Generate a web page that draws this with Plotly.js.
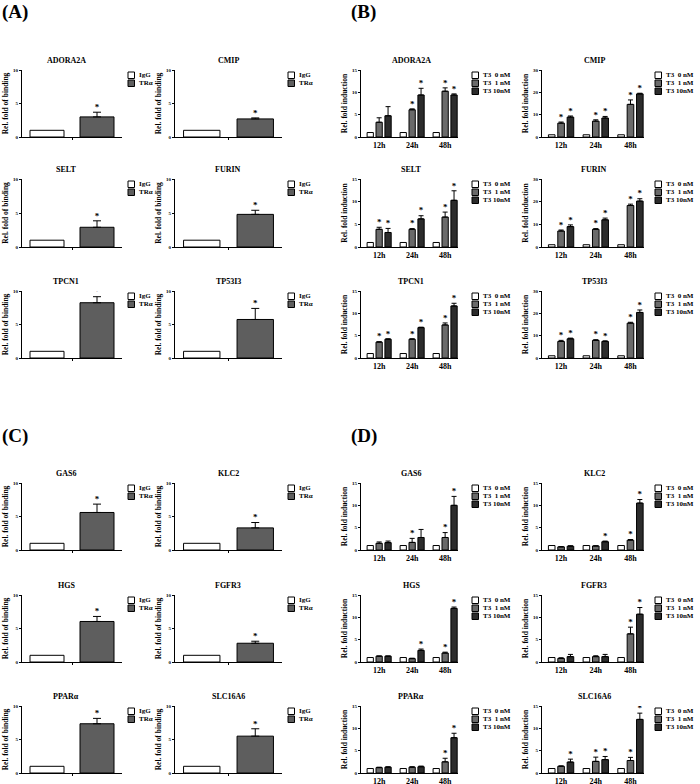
<!DOCTYPE html>
<html>
<head>
<meta charset="utf-8">
<script src="https://cdn.plot.ly/plotly-3.0.1.min.js"></script>
<style>
  body { margin: 0; background: #fff; }
  #chart { width: 700px; height: 784px; }
</style>
</head>
<body>
<div id="chart"></div>
<script>
// ---- data: ChIP panels (A, C), IgG = 1, TRα value + upper SEM ----
const chipGenesA = ['ADORA2A', 'CMIP', 'SELT', 'FURIN', 'TPCN1', 'TP53I3'];
const chipTRaA   = [3.0, 2.7, 2.9, 4.8, 8.25, 5.75];
const chipErrA   = [0.7, 0.15, 0.95, 0.6, 0.9, 1.65];
const chipGenesC = ['GAS6', 'KLC2', 'HGS', 'FGFR3', 'PPARα', 'SLC16A6'];
const chipTRaC   = [5.6, 3.3, 6.05, 2.8, 7.35, 5.5];
const chipErrC   = [1.25, 0.8, 0.75, 0.3, 0.8, 1.1];
const chipIgG    = 1;
const chipNames  = ['IgG', 'TRα'];

// ---- data: T3 time course panels (B, D) ----
const times = ['12h', '24h', '48h'];
const doses = ['T3\u00a0\u00a00\u00a0nM', 'T3\u00a0\u00a01\u00a0nM', 'T3\u00a010nM'];
const dose0 = [1, 1, 1];

const bGenes   = ['ADORA2A', 'CMIP', 'SELT', 'FURIN', 'TPCN1', 'TP53I3'];
const bYmax    = [15, 30, 15, 30, 15, 30];
const bNM1     = [[3.3, 6.1, 10.25], [6.2, 7.1, 14.6], [3.9, 3.9, 6.6], [7.05, 7.8, 18.3], [3.55, 4.2, 7.4], [7.4, 7.9, 15.6]];
const bNM1err  = [[1.0, 0.2, 0.75], [0.5, 0.6, 2.0], [0.45, 0.15, 1.1], [0.45, 0.3, 0.6], [0.1, 0.1, 0.45], [0.5, 0.3, 0.4]];
const bNM10    = [[4.75, 9.4, 9.4], [8.9, 8.5, 19.3], [3.2, 6.2, 10.3], [9.0, 12.0, 20.25], [4.2, 6.8, 11.65], [8.6, 7.4, 20.4]];
const bNM10err = [[2.05, 1.5, 0.25], [0.5, 0.7, 0.3], [0.9, 0.7, 2.1], [0.75, 0.75, 1.05], [0.1, 0.1, 0.6], [0.3, 0.3, 1.1]];
const bSig1    = [[0, 1, 1], [1, 1, 1], [1, 1, 1], [1, 1, 1], [1, 1, 1], [1, 1, 1]];
const bSig10   = [[0, 1, 1], [1, 1, 1], [1, 1, 1], [1, 1, 1], [1, 1, 1], [1, 1, 1]];

const dGenes   = ['GAS6', 'KLC2', 'HGS', 'FGFR3', 'PPARα', 'SLC16A6'];
const dYmax    = [15, 15, 15, 15, 15, 15];
const dNM1     = [[1.5, 1.7, 2.8], [0.7, 0.9, 2.2], [1.3, 0.75, 2.0], [0.8, 1.2, 6.3], [1.2, 1.3, 2.5], [1.5, 2.6, 2.8]];
const dNM1err  = [[0.3, 0.9, 1.1], [0.05, 0.05, 0.15], [0.05, 0.1, 0.2], [0.15, 0.2, 1.5], [0.1, 0.1, 0.8], [0.1, 0.95, 0.7]];
const dNM10    = [[1.65, 2.8, 10.0], [0.85, 1.85, 10.5], [1.3, 2.6, 12.0], [1.2, 1.2, 10.7], [1.3, 1.4, 7.9], [2.45, 3.0, 12.0]];
const dNM10err = [[0.35, 1.8, 2.0], [0.1, 0.15, 0.8], [0.05, 0.3, 0.3], [0.5, 0.5, 1.5], [0.1, 0.15, 1.0], [0.65, 0.7, 1.4]];
const dSig1    = [[0, 1, 1], [0, 0, 1], [0, 0, 1], [0, 0, 1], [0, 0, 1], [0, 1, 1]];
const dSig10   = [[0, 0, 1], [0, 1, 1], [0, 1, 1], [0, 0, 1], [0, 0, 1], [1, 1, 1]];

// ---- layout geometry (px) ----
const W = 700, H = 784;
const FONT = 'Liberation Serif, Times New Roman, serif';
const colPx = [[22, 122], [175, 282], [361, 458], [542, 644]];
const rowPx = [[70, 137], [179, 247], [291, 358], [483, 550], [595, 662], [706, 773]];
const titleX = [66, 228, 411, 594];
const legendX = [128, 288, 472, 655];
const chipColors = ['#ffffff', '#5e5e5e'];
const doseColors = ['#ffffff', '#6a6a6a', '#2c2c2c'];
const chipOff = [-0.25, 0.25], chipW = 0.34;
const doseOff = [-0.27, 0, 0.27], doseW = 0.19;

const px = p => p / W;
const py = p => 1 - p / H;

let traces = [], annotations = [], shapes = [];
let layout = {
  width: W, height: H,
  margin: { l: 0, r: 0, t: 0, b: 0 },
  paper_bgcolor: '#fff', plot_bgcolor: '#fff',
  showlegend: false, barmode: 'overlay',
  font: { family: FONT, color: '#000' }
};
let k = 0;

function errBar(arr, w) {
  return { type: 'data', symmetric: false, array: arr, arrayminus: arr.map(() => 0),
           color: '#000', thickness: 1, width: w };
}

function addLegend(col, row, names, colors) {
  let top = rowPx[row][0] + 2;
  names.forEach((n, i) => {
    let by = top + i * 8, bx = legendX[col];
    shapes.push({ type: 'rect', xref: 'paper', yref: 'paper',
      x0: px(bx), x1: px(bx + 6.5), y0: py(by + 6.5), y1: py(by),
      fillcolor: colors[i], line: { color: '#000', width: 1 } });
    annotations.push({ xref: 'paper', yref: 'paper', x: px(bx + 9), y: py(by + 3.4),
      xanchor: 'left', yanchor: 'middle', showarrow: false, text: n,
      font: { family: FONT, size: 7, weight: 'bold' } });
  });
}

function newAxes(col, row, gene, yTitle, xopts, yopts) {
  k++;
  let xa = k === 1 ? 'xaxis' : 'xaxis' + k, ya = k === 1 ? 'yaxis' : 'yaxis' + k;
  let xr = k === 1 ? 'x' : 'x' + k, yr = k === 1 ? 'y' : 'y' + k;
  layout[xa] = Object.assign({
    domain: [px(colPx[col][0]), px(colPx[col][1])], anchor: yr,
    showline: true, linecolor: '#000', linewidth: 1, showgrid: false, zeroline: false,
    fixedrange: true
  }, xopts);
  layout[ya] = Object.assign({
    domain: [py(rowPx[row][1]), py(rowPx[row][0])], anchor: xr,
    showline: true, linecolor: '#000', linewidth: 1, showgrid: false, zeroline: false,
    ticks: 'outside', ticklen: 2, tickwidth: 1, tickcolor: '#000',
    tickfont: { family: FONT, size: 5, weight: 'bold' },
    title: { text: yTitle, standoff: 3, font: { family: FONT, size: 7.5, weight: 'bold' } },
    fixedrange: true
  }, yopts);
  annotations.push({ xref: 'paper', yref: 'paper', x: px(titleX[col]), y: py(rowPx[row][0] - 10),
    xanchor: 'center', yanchor: 'middle', showarrow: false, text: gene,
    font: { family: FONT, size: 8, weight: 'bold' } });
  return [xr, yr];
}

function chipPanel(genes, vals, errs, row0) {
  genes.forEach((g, i) => {
    let col = i % 2, row = row0 + Math.floor(i / 2);
    let [xr, yr] = newAxes(col, row, g, 'Rel. fold of binding',
      { range: [-0.5, 0.5], tickvals: [0], ticks: 'outside', ticklen: 2, tickcolor: '#000', showticklabels: false },
      { range: [0, 10], tickvals: [0, 5, 10] });
    traces.push({ type: 'bar', x: [chipOff[0]], y: [chipIgG], width: chipW, xaxis: xr, yaxis: yr,
      name: chipNames[0], marker: { color: chipColors[0], line: { color: '#000', width: 1 } } });
    traces.push({ type: 'bar', x: [chipOff[1]], y: [vals[i]], width: chipW, xaxis: xr, yaxis: yr,
      name: chipNames[1], marker: { color: chipColors[1], line: { color: '#000', width: 1 } },
      error_y: errBar([errs[i]], 4) });
    traces.push({ type: 'scatter', mode: 'text', x: [chipOff[1]], y: [vals[i] + errs[i]], text: ['*'],
      textposition: 'top center', textfont: { family: FONT, size: 9, weight: 'bold' },
      xaxis: xr, yaxis: yr, hoverinfo: 'skip' });
    addLegend(col, row, chipNames, chipColors);
  });
}

function timePanel(genes, ymax, v1, e1, v10, e10, s1, s10, row0) {
  genes.forEach((g, i) => {
    let col = 2 + i % 2, row = row0 + Math.floor(i / 2);
    let [xr, yr] = newAxes(col, row, g, 'Rel. fold induction',
      { range: [-0.55, 2.39], tickvals: [0, 1, 2], ticktext: times, ticks: '',
        tickfont: { family: FONT, size: 8, weight: 'bold' } },
      { range: [0, ymax[i]], dtick: ymax[i] / 3, tick0: 0 });
    let series = [[dose0, null, null], [v1[i], e1[i], s1[i]], [v10[i], e10[i], s10[i]]];
    series.forEach(([vals, errs, sig], s) => {
      let xs = times.map((t, j) => j + doseOff[s]);
      let tr = { type: 'bar', x: xs, y: vals, width: doseW, xaxis: xr, yaxis: yr, name: doses[s],
        marker: { color: doseColors[s], line: { color: '#000', width: 1 } } };
      if (errs) tr.error_y = errBar(errs, 2.5);
      traces.push(tr);
      if (sig) {
        let sx = [], sy = [];
        sig.forEach((f, j) => { if (f) { sx.push(xs[j]); sy.push(vals[j] + errs[j]); } });
        traces.push({ type: 'scatter', mode: 'text', x: sx, y: sy, text: sx.map(() => '*'),
          textposition: 'top center', textfont: { family: FONT, size: 9, weight: 'bold' },
          xaxis: xr, yaxis: yr, hoverinfo: 'skip' });
      }
    });
    addLegend(col, row, doses, doseColors);
  });
}

chipPanel(chipGenesA, chipTRaA, chipErrA, 0);
timePanel(bGenes, bYmax, bNM1, bNM1err, bNM10, bNM10err, bSig1, bSig10, 0);
chipPanel(chipGenesC, chipTRaC, chipErrC, 3);
timePanel(dGenes, dYmax, dNM1, dNM1err, dNM10, dNM10err, dSig1, dSig10, 3);

// panel letters
[['(A)', 0, 12], ['(B)', 349, 12], ['(C)', 0, 436], ['(D)', 349, 436]].forEach(([t, x, y]) => {
  annotations.push({ xref: 'paper', yref: 'paper', x: px(x), y: py(y), xanchor: 'left', yanchor: 'middle',
    showarrow: false, text: t, font: { family: FONT, size: 19, weight: 'bold' } });
});

layout.annotations = annotations;
layout.shapes = shapes;
Plotly.newPlot('chart', traces, layout, { staticPlot: true, displayModeBar: false });
</script>
</body>
</html>
